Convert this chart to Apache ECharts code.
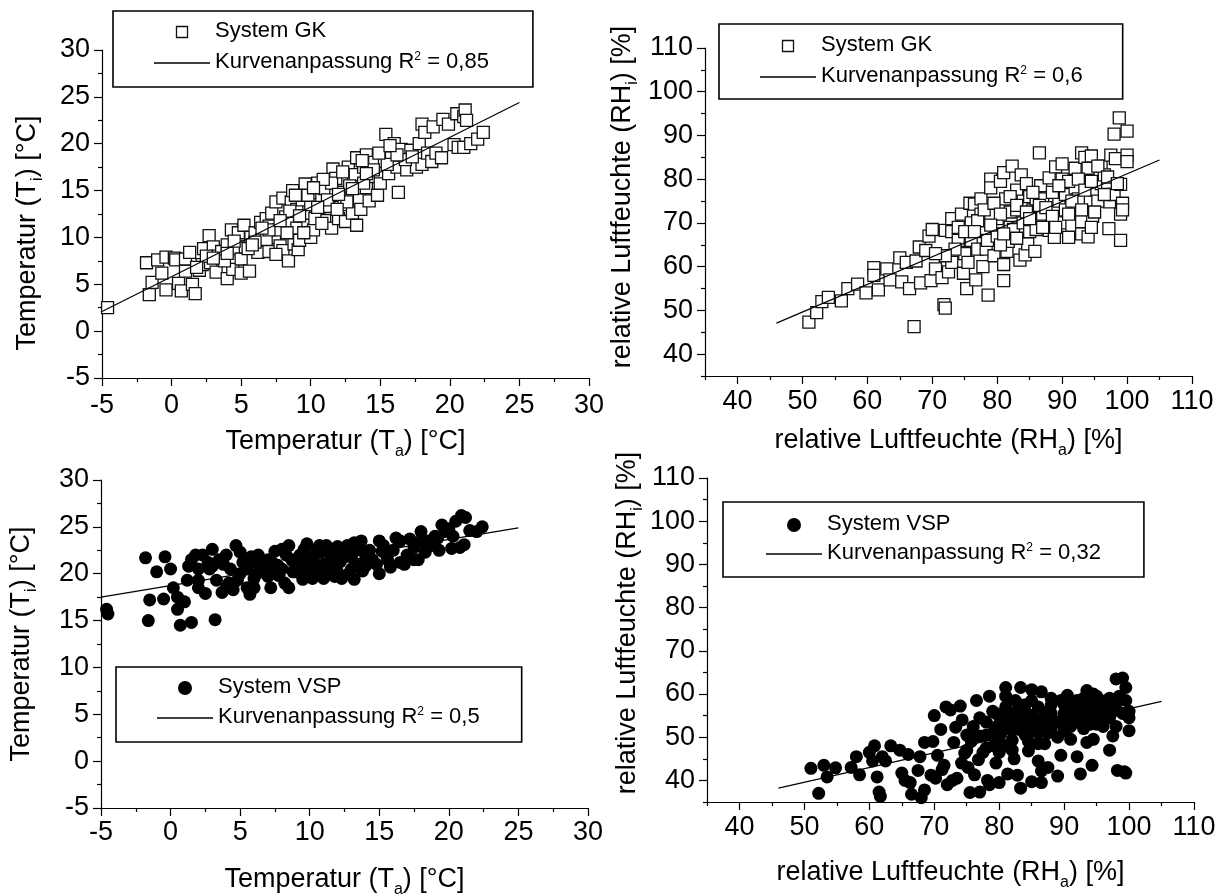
<!DOCTYPE html>
<html>
<head>
<meta charset="utf-8">
<script src="https://cdn.jsdelivr.net/npm/echarts@6/dist/echarts.min.js"></script>
<style>
html,body{margin:0;padding:0;background:#fff;}
#c{width:1226px;height:895px;}
</style>
</head>
<body>
<div id="c"></div>
<script>
// ---------- data ----------
const tempMin = -5, tempMax = 30, tempStep = 5;
const humMin = 35, humMax = 110;
const humLabelValues = [40, 50, 60, 70, 80, 90, 100, 110];
const humMinorValues = [35, 45, 55, 65, 75, 85, 95, 105];

const gkTempPoints = [
[-4.6,2.5],[-1.8,7.3],[-1.6,3.9],[-1.4,5.2],[-1,7.6],[-0.7,6.2],[-0.4,4.4],[-0.4,7.9],[0.2,7.8],[0.3,7.6],
[0.5,5.1],[0.7,4.3],[1,6.4],[1,7.7],[1.3,8.4],[1.5,5.0],[1.7,4.0],[2,6.5],[2.2,7.1],[2.3,8.8],
[2.7,10.2],[2.8,7.3],[3,9.0],[3.2,6.3],[3.3,8.0],[3.6,8.5],[4,5.6],[4,9.2],[4.3,10.8],[4.4,6.6],
[4.6,8.8],[4.8,10.5],[5,6.2],[5,7.7],[5.2,11.3],[5.3,9.0],[5.6,6.4],[5.7,10.0],[6,10.5],[6.2,8.4],
[6.4,11.6],[6.5,9.8],[6.8,12.0],[7,8.5],[7,11.2],[7.2,12.6],[7.4,10.0],[7.5,13.8],[7.7,10.8],[7.8,9.1],
[8,14.2],[8,8.6],[8.2,12.2],[8.4,7.5],[8.5,11.5],[8.6,13.8],[8.7,15.0],[8.8,9.3],[9,11.0],[9,13.0],
[9.1,8.7],[9.2,9.7],[9.4,14.0],[9.5,12.3],[9.6,15.7],[9.8,11.3],[10,10.0],[10,13.5],[10.2,10.8],[10.5,15.8],
[10.6,12.8],[10.8,14.2],[11,11.8],[11,15.2],[11.3,13.3],[11.5,11.0],[11.6,17.3],[11.8,14.5],[12,12.0],[12.2,16.1],
[12.4,13.5],[12.5,11.7],[12.7,17.5],[12.9,14.8],[13,12.6],[13.2,16.7],[13.3,18.5],[13.3,11.3],[13.5,14.0],[13.6,13.0],
[13.8,17.5],[14,18.8],[14,15.3],[14.2,13.9],[14.4,16.5],[14.6,18.0],[14.8,14.5],[15,15.8],[15,17.0],[15.3,18.1],
[15.4,21.0],[15.6,16.8],[15.8,18.5],[16,20.0],[16.2,17.5],[16.3,14.8],[16.5,19.4],[16.9,17.2],[17.2,19.3],[17.6,17.5],
[17.8,20.0],[18,22.1],[18,17.8],[18.2,21.2],[18.4,19.0],[18.7,18.1],[18.8,21.8],[19,19.0],[19.4,18.5],[19.5,22.6],
[19.9,22.1],[20.3,19.9],[20.5,23.2],[20.6,19.6],[21,22.9],[21,19.6],[21.1,23.6],[21.2,22.5],[21.5,20.0],[22,20.5],
[22.4,21.2],[6.8,9.8],[7.5,8.2],[10.3,12.0],[11.2,14.0],[12.8,15.5],[14.5,17.2],[9.5,10.5],[8.3,10.5],[3.8,7.5],
[2.5,8.0],[5.5,8.8],[7,10.8],[10.8,11.5],[12.6,13.8],[13.8,15.8],[16.8,18.3],[6,9.5],[4.5,9.6],[11.8,16.3],
[8.5,12.8],[9.8,14.5],[10.5,13.2],[11.5,15.8],[12,14.6],[13,15.2],[14,16.8],[15.5,17.8],[7.8,11.8],[6.5,11],
[9.2,12.3],[10.9,16.2],[12.3,17],[13.7,18.2],[16.2,18.8],[17.3,18.6],[5.8,9.2],[4,8.3],[3,7.8],[1.8,6.8],
[8.9,14.5],[10.2,15.3],[11.9,13],[14.9,19],[15.7,19.8]
];
const gkTempFit = [[-5, 2.1], [25, 24.4]];

const gkHumPoints = [
[51,47.3],[52.2,49.5],[53,52],[54,53],[56,52.2],[57,55],[58.5,56],[59.8,54],[61,59.8],[61,58],
[61.7,54.7],[63,59.5],[63.5,57],[65,62],[65.3,56.5],[66,61],[66.5,55],[67.2,46.3],[67.5,61.3],[68,64.5],
[68.2,56.3],[69,63.7],[69.5,67],[69.8,56.8],[70,68.5],[70.5,59.5],[71.5,57.5],[71.8,51.3],[72,50.5],[72,68.3],
[72.5,58.8],[73,71],[73,68],[73,61],[74,66],[74.5,72],[74.8,58.5],[75,63],[75.3,55],[75.5,61],
[75.8,74.5],[76,66],[76.5,74.3],[76.7,57],[77,64],[77.5,72],[77.5,75.5],[77.8,60],[78,68.5],[78.3,64],
[78.5,66],[78.6,53.5],[79,80],[79,78],[79.5,62.5],[80,71],[80,67],[80.5,79.5],[81,60.5],[81,56.8],
[81,81.5],[81.3,75.5],[81.5,63.5],[81.7,65.8],[82,69],[82,72.5],[82.3,83],[82.5,68.5],[83,77.5],[83.5,61.5],
[83.7,81],[84,70],[84,75],[84.3,62.7],[84.5,79],[84.7,65.2],[85,76],[85,68],[85.5,73],[85.8,63.5],
[86,75.5],[86.5,86],[86.5,71],[86.7,78.5],[87,75.5],[87,72],[88,68.3],[88,80.3],[88.8,66.7],[89,72.5],
[89,82.8],[89.5,75],[90,70],[90,83.5],[90,80],[90.5,76.5],[91,66.7],[91.5,69.5],[92,82.5],[92,78],
[92,73.8],[92.5,75.5],[93,67.5],[93,86],[93,70.3],[93.5,85],[94,66.8],[94,82.5],[94.5,85.3],[94.7,71.5],
[94.5,69],[95,77.5],[96,79],[96,83],[96.5,81],[97,78.5],[97.2,68.7],[97.3,74.8],[97.5,85.5],[98,76.5],
[98,90.3],[98.2,84.7],[98.8,94],[99,72],[99,66],[99,78.8],[99.3,74.5],[99.3,73],[100,91],[100,85.5],
[100,84],[74,69],[76,70],[79,72],[83,73],[86,68.5],[88.5,77],[91,79.5],[95.5,83],[80.5,65],
[75,68],[77,70.5],[78,73],[79.5,74.5],[80.5,72],[82,76],[83,74],[84.5,72.5],[85.5,77],[86.5,74],
[87.5,73.5],[88.5,71.5],[89.5,78.5],[90.5,73],[91.5,75],[92.5,80],[93.5,77.5],[94.5,79.5],[95.5,75],[96.5,76.5],
[73.5,64],[72,62.5],[70.5,63],[76.5,68],[79,69.5],[81,67.5],[83,66.5],[85,71],[87,69],[89,69],
[91,72],[93,73],[95,72.5],[97,80.5],[98.5,79]
];
const gkHumFit = [[46, 47.1], [105, 84.4]];

const vspTempPoints = [
[-4.6,16.2],[-4.5,15.7],[-1.8,21.7],[-1.6,15],[-1.5,17.2],[-1,20.2],[-0.5,17.3],[-0.4,21.8],[0,20.5],[0.2,18.5],
[0.5,17.5],[0.5,16.2],[0.7,14.5],[1,17],[1.2,19.3],[1.3,20.8],[1.5,14.8],[1.5,21.5],[2,20.5],[2,18.5],
[2.3,22],[2.5,17.9],[2.8,20.5],[3,22.6],[3.2,15.1],[3.3,19.3],[3.5,21.5],[3.7,18],[4,18.5],[4.3,20.5],
[4.5,18.3],[4.7,23],[4.8,19.3],[5,22.3],[5.2,21.2],[5.5,18.5],[5.7,17.8],[6,21.3],[6.2,20],[6.5,21],
[7,19.7],[7.2,18.5],[7.5,22.4],[7.7,20.9],[8,22.6],[8.2,19],[8.5,18.5],[8.7,21.5],[9,20.2],[9.3,22],
[9.5,19.4],[9.8,23.2],[10,21],[10.2,19.5],[10.5,22.5],[10.8,20.8],[11,19.5],[11.2,23],[11.5,21.5],[12,22.9],
[12,20.2],[12.3,19.5],[12.5,21.8],[12.7,23],[13,20.5],[13.2,19.4],[13.3,22.5],[13.5,21],[13.7,23.5],[14,22],
[14.5,21.5],[15,23.5],[15,20],[15.5,22],[15.8,20.7],[16.2,23.8],[16.5,21.2],[16.8,21],[17.2,23.7],[17.5,22.8],
[17.8,21.5],[18,24.5],[18.3,22.3],[18.5,23.5],[19,24],[19.3,22.5],[19.5,25.2],[20,24.8],[20.2,22.7],[20.5,25.6],
[20.8,22.8],[20.9,26.2],[21.1,23.1],[21.2,26],[21.5,24.6],[22,24.5],[22.4,25],[8,20.5],[9,21.5],[10.5,20.5],
[11.5,22.3],[12.5,22.5],[13,21.8],[14,20.8],[7,21.5],[6,19.5],[3,20.8],[2,19.3],[9.7,20.3],[11.7,20.7],
[5.5,20.5],[6.3,22],[6.8,20.8],[7.3,21.2],[7.8,19.8],[8.3,22],[8.8,20.2],[9.2,21],[9.6,22.6],[10,19.8],
[10.3,21.8],[10.7,23],[11,21],[11.4,20],[11.8,22],[12.2,21.3],[12.8,20],[13.5,22.7],[13.8,20.3],[14.3,22.5],
[14.8,21],[15.3,23],[15.6,21.5],[16,22.5],[16.5,23.5],[17,22],[17.5,21.5],[18,23.5],[18.7,23],[19.2,23.8],
[19.7,24.5],[20.3,24],[3.8,21],[4.2,19],[5,20],[6,18.5],[7.5,20],[8.5,23],[9.5,21.8],[10.8,22.3],
[12,21.5],[13.2,23.3],[14.2,21.8],[15.2,22.4],[11.8,19.7],[12.9,22],[2.7,21.2],[1.8,22],[4,22],[5.8,21.8]
];
const vspTempFit = [[-5, 17.5], [25, 24.9]];

const vspHumPoints = [
[51,42.8],[52.2,37],[53,43.5],[53.5,40.8],[54.8,42.9],[55.8,34.8],[57.2,43],[58,45.5],[58.5,41.3],[60,46.5],
[60.5,44.5],[60.8,48],[61.2,40.8],[61.5,37.3],[61.7,36.3],[62,45.5],[62.5,44.5],[63.3,48],[64.7,47],[65,41.7],
[65.5,40],[66,46],[66.3,39.5],[66.5,36.8],[67.5,42.3],[67.8,45.5],[68,36],[68.5,37.8],[68.5,48.8],[69.5,41.2],
[69.8,49],[70,55],[70.2,40.5],[70.5,45.8],[71,51.8],[71.2,42.5],[71.5,43.5],[71.8,57],[72,39],[72.5,56.3],
[72.8,40],[73,48.8],[73.3,52.3],[73.5,40.5],[74,57.2],[74.2,44],[74.3,54],[74.7,46.3],[75,50.5],[75.2,43],
[75.5,37.2],[75.7,49],[76,52.5],[76.2,41.3],[76.5,58.5],[76.8,44.8],[77,37.3],[77,50.3],[77.5,46.5],[78,53.5],
[78.2,40],[78.5,59.5],[78.5,39],[79,56],[79.2,48],[79.5,44],[79.7,52.5],[80,39.5],[80,50],[80.5,54],
[81,61.5],[81,57],[81.3,41.5],[81.5,52.5],[82,55.5],[82,49.3],[82.3,45],[82.5,58.5],[82.8,41.2],[83,53],
[83.3,61.5],[83.3,38.2],[83.5,51.5],[84,57.5],[84.5,49],[84.5,46.8],[85,58.5],[85,39.7],[85.5,53.5],[86,51],
[86,44.5],[86.5,42.2],[86.5,60.5],[86.5,39.5],[87,55.8],[87,48.5],[87.5,43],[88,57.5],[88,52],[89,41],
[89.5,58.5],[89.5,45.8],[90,53],[90.5,59.7],[90.5,56],[91,49.5],[91.5,55],[92,45.5],[92,53.5],[92.5,41.5],
[93,57],[93,54.5],[93.5,48.8],[93.5,60.8],[94,55.5],[94.3,43.5],[94.5,49.5],[94.5,60],[95,53],[95.5,57.5],
[96,52.5],[96.5,58.5],[97,47],[97.5,50.3],[97.5,56],[98,63.5],[98,52.5],[98.2,42.3],[98.5,59.5],[99,63.7],
[99.3,42],[99.5,61.5],[99.5,58.5],[100,56],[100,54.5],[100,51.5],[99.5,41.7],[80,55],[83,56],[85,55],
[88,54.5],[91,56.5],[84,52],[78,50.5],[81,48],[90,55.5],[93,52],
[79,51],[80,53],[81,55],[82,51.5],[83,57.5],[84,54.5],[85,51.5],[86,57],[87,53],[88,55.5],
[89,53.5],[90,57.5],[91,52.5],[92,58.5],[93,55],[94,58],[95,55.5],[96,57],[97,54.5],[98,58],
[99,55.5],[82,53],[84,56],[86,54],[88,59],[90,51.5],[92,56],[94,53],[96,55],[98,56.5],
[77,54.5],[76,50],[75,47],[78,47.5],[80,46.5],[82,47],[84,50.5],[86,48.5],[89,50],[91,54],
[93,59],[95,59.5],[97,59],[81,59.5],[85,61],[80.5,51.5],[79.5,55.5],[83.5,54.5],[87.5,51],[91.5,57.5]
];
const vspHumFit = [[46, 38.2], [105, 58.3]];

const seriesNames = {
  gk: 'System GK',
  vsp: 'System VSP',
  fitTL: 'Kurvenanpassung R² = 0,85',
  fitTR: 'Kurvenanpassung R² = 0,6',
  fitBL: 'Kurvenanpassung R² = 0,5',
  fitBR: 'Kurvenanpassung R² = 0,32'
};

// ---------- styling helpers ----------
const FONT = "'Liberation Sans', Arial, Helvetica, sans-serif";
const black = '#000';

function nameStyle(padding) {
  return {
    fontFamily: FONT, color: black, fontSize: 27,
    padding: padding,
    rich: {
      m: { fontFamily: FONT, fontSize: 27, lineHeight: 30, verticalAlign: 'top', color: black },
      sub: { fontFamily: FONT, fontSize: 16, lineHeight: 34, verticalAlign: 'top', padding: [16, 0, 0, 0], color: black }
    }
  };
}
const tempName = (s) => '{m|Temperatur (T}{sub|' + s + '}{m|) [°C]}';
const humName = (s) => '{m|relative Luftfeuchte (RH}{sub|' + s + '}{m|) [%]}';

function tempAxis(gridIndex, name, gap, margin, padding) {
  return {
    type: 'value', gridIndex: gridIndex, min: tempMin, max: tempMax, interval: tempStep,
    name: name, nameLocation: 'middle', nameGap: gap, nameTextStyle: nameStyle(padding),
    axisLine: { show: true, onZero: false, lineStyle: { color: black, width: 1.2 } },
    axisTick: { show: true, inside: false, length: 8, lineStyle: { color: black, width: 1.2 } },
    minorTick: { show: true, splitNumber: 2, length: 4, lineStyle: { color: black, width: 1.2 } },
    axisLabel: { fontFamily: FONT, fontSize: 27, color: black, margin: margin, showMinLabel: true, showMaxLabel: true },
    splitLine: { show: false }
  };
}
function humAxis(gridIndex, name, gap, margin, padding) {
  return {
    type: 'value', gridIndex: gridIndex, min: humMin, max: humMax, interval: 5,
    name: name, nameLocation: 'middle', nameGap: gap, nameTextStyle: nameStyle(padding),
    axisLine: { show: true, onZero: false, lineStyle: { color: black, width: 1.2 } },
    axisTick: { show: true, length: 8, customValues: humLabelValues, lineStyle: { color: black, width: 1.2 } },
    axisLabel: { fontFamily: FONT, fontSize: 27, color: black, margin: margin, customValues: humLabelValues,
      formatter: (v) => (v % 10 === 0 ? String(v) : '') },
    splitLine: { show: false }
  };
}
function humMinorAxis(gridIndex, position) {
  return {
    type: 'value', gridIndex: gridIndex, min: humMin, max: humMax, interval: 5,
    position: position, offset: 0,
    axisLine: { show: false, onZero: false },
    axisTick: { show: true, length: 4, customValues: humMinorValues, lineStyle: { color: black, width: 1.2 } },
    axisLabel: { show: false },
    splitLine: { show: false }
  };
}

const squareStyle = { color: '#fff', borderColor: '#111', borderWidth: 1.3, opacity: 1 };
const dotStyle = { color: '#000', borderColor: '#000', borderWidth: 0, opacity: 1 };

function scatter(name, data, xi, yi, symbol, size, style) {
  return { name: name, type: 'scatter', xAxisIndex: xi, yAxisIndex: yi, data: data,
    symbol: symbol, symbolSize: size, itemStyle: style, clip: true, z: 2,
    emphasis: { disabled: true } };
}
function fitLine(name, data, xi, yi) {
  return { name: name, type: 'line', xAxisIndex: xi, yAxisIndex: yi, data: data,
    symbol: 'none', showSymbol: false, clip: true, z: 5,
    lineStyle: { color: black, width: 1.2 }, itemStyle: { color: black } };
}

const SQUARE_ICON = 'path://M0,0H10V10H0Z';
const LINE_ICON = 'path://M0,0H56V1.6H0Z';

function legend(left, top, items, iconH, gap, padding) {
  return {
    orient: 'vertical', left: left, top: top, data: items,
    itemWidth: 56, itemHeight: iconH, itemGap: gap, padding: padding,
    borderColor: black, borderWidth: 1.6, backgroundColor: '#fff',
    selectedMode: false, symbolKeepAspect: true,
    textStyle: {
      fontFamily: FONT, fontSize: 22, color: black, lineHeight: 24,
      rich: {
        t: { fontFamily: FONT, fontSize: 22, lineHeight: 24, verticalAlign: 'top', color: black },
        sup: { fontFamily: FONT, fontSize: 12, lineHeight: 14, verticalAlign: 'top', color: black }
      }
    },
    formatter: (n) => {
      const parts = n.split('²');
      if (parts.length === 1) return '{t|' + n + '}';
      return '{t|' + parts[0] + '}{sup|2}{t|' + parts[1] + '}';
    }
  };
}
const squareItem = (n) => ({ name: n, icon: SQUARE_ICON, itemStyle: { color: '#fff', borderColor: '#111', borderWidth: 1.3 } });
const dotItem = (n) => ({ name: n, icon: 'circle', itemStyle: { color: '#000', borderWidth: 0 } });
const lineItem = (n) => ({ name: n, icon: LINE_ICON, itemStyle: { color: '#000', borderWidth: 0 } });

const option = {
  animation: false,
  backgroundColor: '#fff',
  grid: [
    { left: 102, top: 50, width: 487, height: 328, outerBoundsMode: 'none', containLabel: false },
    { left: 705, top: 48, width: 487, height: 328, outerBoundsMode: 'none', containLabel: false },
    { left: 101, top: 480, width: 487, height: 328, outerBoundsMode: 'none', containLabel: false },
    { left: 707, top: 478, width: 487, height: 324, outerBoundsMode: 'none', containLabel: false }
  ],
  xAxis: [
    tempAxis(0, tempName('a'), 50, 14, [0, 0, 0, 0]),
    humAxis(1, humName('a'), 51, 12, [0, 0, 0, 0]),
    tempAxis(2, tempName('a'), 58, 11, [0, 0, 0, 0]),
    humAxis(3, humName('a'), 57, 12, [0, 0, 0, 0]),
    humMinorAxis(1, 'bottom'),
    humMinorAxis(3, 'bottom')
  ],
  yAxis: [
    tempAxis(0, tempName('i'), 54, 12, [0, 38, 0, 0]),
    humAxis(1, humName('i'), 62, 12, [0, 0, 0, 30]),
    tempAxis(2, tempName('i'), 59, 12, [0, 0, 0, 0]),
    humAxis(3, humName('i'), 51, 12, [0, 0, 0, 34]),
    humMinorAxis(1, 'left'),
    humMinorAxis(3, 'left')
  ],
  legend: [
    legend(113, 11, [squareItem(seriesNames.gk), lineItem(seriesNames.fitTL)], 11, 7, [9, 44, 12, 41]),
    legend(719, 24, [squareItem(seriesNames.gk), lineItem(seriesNames.fitTR)], 11, 7, [10, 40, 10, 41]),
    legend(116, 667, [dotItem(seriesNames.vsp), lineItem(seriesNames.fitBL)], 14, 6, [9, 42, 12, 41]),
    legend(723, 502, [dotItem(seriesNames.vsp), lineItem(seriesNames.fitBR)], 14, 5, [11, 43, 11, 43])
  ],
  series: [
    scatter(seriesNames.gk, gkTempPoints, 0, 0, 'rect', 12, squareStyle),
    fitLine(seriesNames.fitTL, gkTempFit, 0, 0),
    scatter(seriesNames.gk, gkHumPoints, 1, 1, 'rect', 12, squareStyle),
    fitLine(seriesNames.fitTR, gkHumFit, 1, 1),
    scatter(seriesNames.vsp, vspTempPoints, 2, 2, 'circle', 13, dotStyle),
    fitLine(seriesNames.fitBL, vspTempFit, 2, 2),
    scatter(seriesNames.vsp, vspHumPoints, 3, 3, 'circle', 13, dotStyle),
    fitLine(seriesNames.fitBR, vspHumFit, 3, 3)
  ]
};

const chart = echarts.init(document.getElementById('c'), null, { renderer: 'canvas' });
chart.setOption(option);
</script>
</body>
</html>
